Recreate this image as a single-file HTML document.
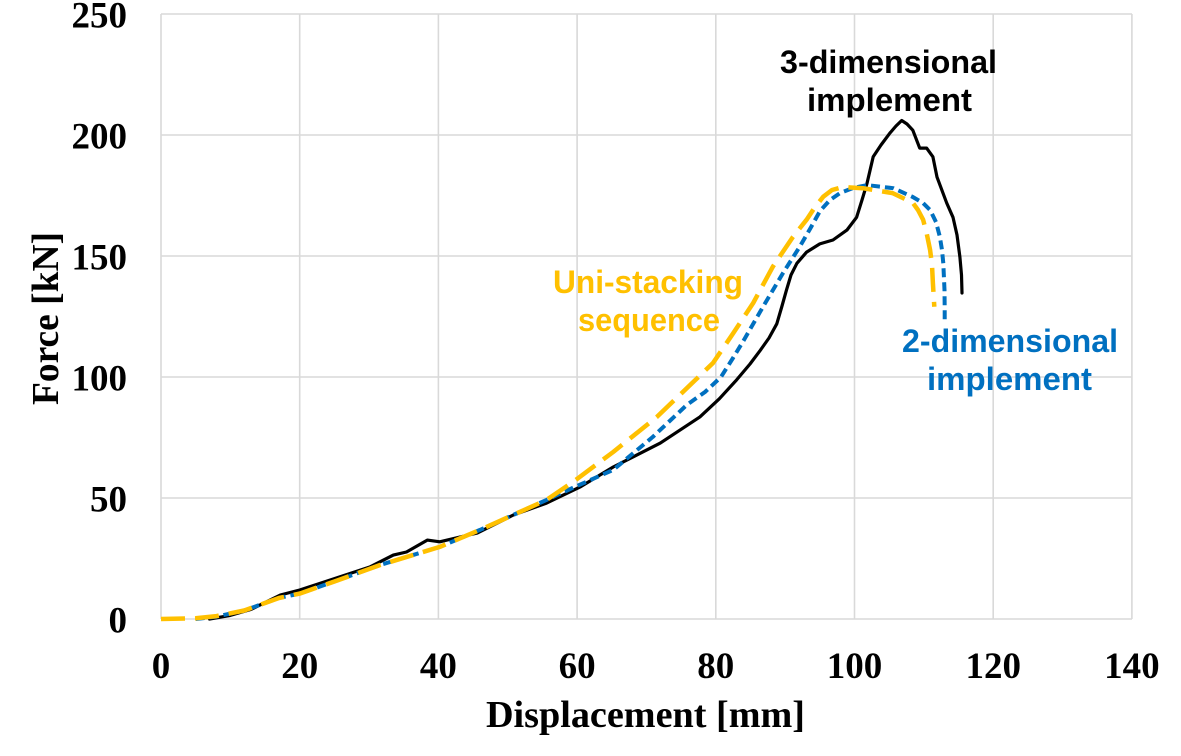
<!DOCTYPE html>
<html>
<head>
<meta charset="utf-8">
<style>
html,body{margin:0;padding:0;background:#fff;}
svg{display:block;}
.tk{font-family:"Liberation Serif",serif;font-weight:bold;font-size:37px;fill:#000;}
.ax{font-family:"Liberation Serif",serif;font-weight:bold;font-size:38px;fill:#000;}
.an{font-family:"Liberation Sans",sans-serif;font-weight:bold;font-size:32px;}
</style>
</head>
<body>
<svg width="1181" height="756" viewBox="0 0 1181 756" xmlns="http://www.w3.org/2000/svg">
<rect width="1181" height="756" fill="#fff"/>
<g stroke="#d9d9d9" stroke-width="1.6" fill="none">
<line x1="161" y1="14" x2="1132" y2="14"/>
<line x1="161" y1="135" x2="1132" y2="135"/>
<line x1="161" y1="256" x2="1132" y2="256"/>
<line x1="161" y1="377" x2="1132" y2="377"/>
<line x1="161" y1="498" x2="1132" y2="498"/>
<line x1="161" y1="619" x2="1132" y2="619"/>
<line x1="161" y1="14" x2="161" y2="619"/>
<line x1="299.7" y1="14" x2="299.7" y2="619"/>
<line x1="438.4" y1="14" x2="438.4" y2="619"/>
<line x1="577.1" y1="14" x2="577.1" y2="619"/>
<line x1="715.8" y1="14" x2="715.8" y2="619"/>
<line x1="854.5" y1="14" x2="854.5" y2="619"/>
<line x1="993.2" y1="14" x2="993.2" y2="619"/>
<line x1="1131.9" y1="14" x2="1131.9" y2="619"/>
</g>
<g class="tk" text-anchor="end" dominant-baseline="central">
<text x="127" y="16">250</text>
<text x="127" y="137">200</text>
<text x="127" y="258">150</text>
<text x="127" y="379">100</text>
<text x="127" y="500">50</text>
<text x="127" y="621">0</text>
</g>
<g class="tk" text-anchor="middle">
<text x="161" y="678">0</text>
<text x="299.7" y="678">20</text>
<text x="438.4" y="678">40</text>
<text x="577.1" y="678">60</text>
<text x="715.8" y="678">80</text>
<text x="854.5" y="678">100</text>
<text x="993.2" y="678">120</text>
<text x="1131.9" y="678">140</text>
</g>
<text class="ax" x="645.5" y="727" text-anchor="middle" textLength="319" lengthAdjust="spacingAndGlyphs">Displacement [mm]</text>
<text class="ax" transform="translate(58,318.5) rotate(-90)" x="0" y="0" text-anchor="middle" textLength="173" lengthAdjust="spacingAndGlyphs">Force [kN]</text>

<polyline fill="none" stroke="#000" stroke-width="3.2" stroke-linejoin="round" stroke-linecap="round" points="209.5,619 230.4,615.4 251.2,609.3 280.3,595.0 299.7,590.0 330.2,580.0 369.7,567.0 393.3,555.1 406.5,552.0 427.3,540.1 439.8,541.8 459.9,537.0 477.2,533.1 513.3,515.0 546.6,503.1 579.9,487.1 613.2,467.0 660.3,443.1 699.9,416.9 719.3,398.8 736.6,379.9 750,364 760.2,350.4 769,338 776.8,323.8 782,306 786.5,289.9 791,275 796.9,263.3 806.6,252.1 819.8,243.9 833.0,240.0 846.9,230.1 856.6,217.3 862,200 867.0,183.4 873.2,156.8 881,145 889.9,133.1 896,126 901.7,120.5 907,124 912.8,130.2 919.7,148.1 926.6,148.1 932.9,156.8 937.0,177.1 946.7,203.0 953.0,217.3 957,235 959.9,257.0 961.5,275 962.0,293.0"/>

<polyline fill="none" stroke="#0070C0" stroke-width="4" stroke-dasharray="9,5" stroke-linejoin="round" points="195.7,619 216.5,616.6 244.2,610.5 278.9,598.0 299.7,593.6 334.4,581.5 380.1,565.0 439.8,546.9 480.0,529.9 546.6,499.9 577.1,485.9 613.2,469.9 652.7,437.0 686.7,405 705,392 721,377 733,358 743.5,340.7 763.0,306.8 783.1,272.9 799.7,246.8 810,229 820,211 830,200 840,193.1 853,188 867.0,185.1 893.3,188.2 912.8,197.0 923,203 930.1,210.0 936,222 939.8,236.6 942,250 943.3,263.3 944.5,290 944.7,309.2 944.7,321.3"/>

<polyline fill="none" stroke="#FFC000" stroke-width="4.5" stroke-dasharray="24,10" stroke-linejoin="round" points="161,619 195.7,618.3 216.5,616.1 244.2,610.5 278.9,598.0 299.7,593.6 334.4,581.5 380.1,565.0 439.8,546.9 480.0,529.9 546.6,499.9 572.9,482.0 613.2,452.0 656.9,416.9 690.1,385 713,363 733.1,333.4 753.2,303.0 772.7,266.9 792.8,237.1 806.6,219.7 815,207 823.3,196.7 832,190 842.7,187.0 862.8,188.2 892.6,193.1 912.8,202.8 918,210 923.1,219.7 926.6,233.0 930.1,250.0 932,265 932.9,283.1 934.3,306.8"/>

<g class="an" text-anchor="middle" fill="#000">
<text x="888.5" y="73" textLength="217" lengthAdjust="spacingAndGlyphs">3-dimensional</text>
<text x="889.5" y="111" textLength="165" lengthAdjust="spacingAndGlyphs">implement</text>
</g>
<g class="an" text-anchor="middle" fill="#FFC000">
<text x="648" y="293" textLength="190" lengthAdjust="spacingAndGlyphs">Uni-stacking</text>
<text x="649" y="331" textLength="142" lengthAdjust="spacingAndGlyphs">sequence</text>
</g>
<g class="an" text-anchor="middle" fill="#0070C0">
<text x="1010" y="352" textLength="216" lengthAdjust="spacingAndGlyphs">2-dimensional</text>
<text x="1009.5" y="390" textLength="165" lengthAdjust="spacingAndGlyphs">implement</text>
</g>
</svg>
</body>
</html>
